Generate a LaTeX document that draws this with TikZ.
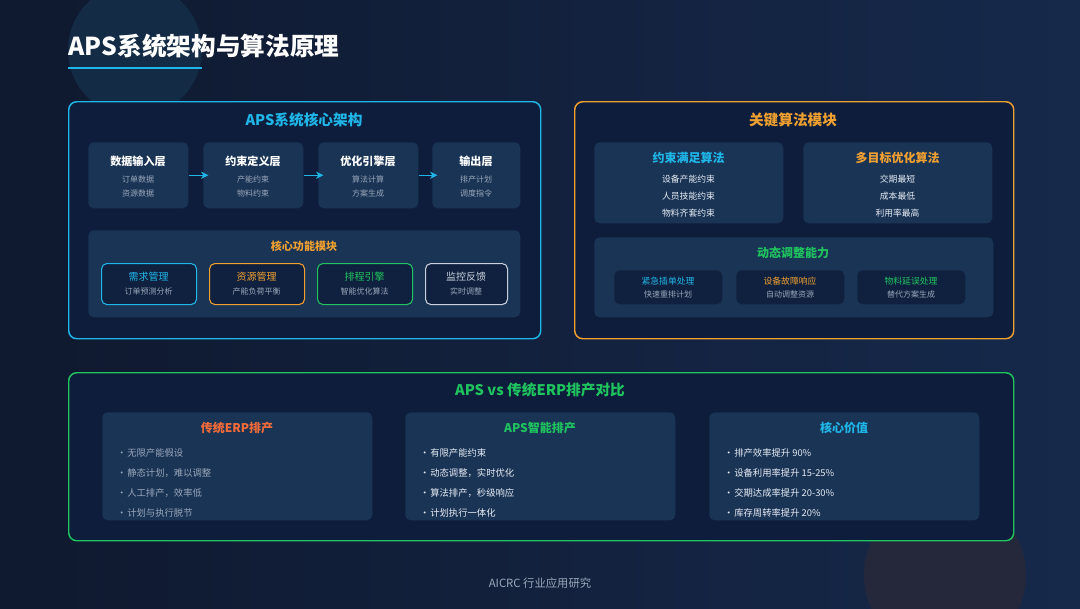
\documentclass[tikz,border=0pt]{standalone}
\usepackage{fontspec}
\setmainfont{Noto Sans CJK SC}
\usetikzlibrary{arrows.meta}
\definecolor{bgleft}{HTML}{0F192F}
\definecolor{bgright}{HTML}{16294B}
\definecolor{panelbg}{HTML}{0E1D3B}
\definecolor{cardbg}{HTML}{1A3456}
\definecolor{darkcard}{HTML}{10213F}
\definecolor{accentcyan}{HTML}{1FB6E8}
\definecolor{accentorange}{HTML}{F0A030}
\definecolor{accentgreen}{HTML}{1FC45F}
\definecolor{accentred}{HTML}{F26B38}
\definecolor{subgray}{HTML}{9AA8BA}
\definecolor{lightgray}{HTML}{C8D0DC}
\definecolor{textwhite}{HTML}{E8EDF4}
\definecolor{glowteal}{HTML}{132B45}
\definecolor{glowbrown}{HTML}{24283A}
\begin{document}
\begin{tikzpicture}[x=0.75pt,y=-0.75pt,
    box/.style 2 args={minimum width=#1*0.75pt,minimum height=#2*0.75pt},
    panel/.style={draw=#1,line width=1.1pt,rounded corners=6pt,fill=panelbg,anchor=north west,inner sep=0pt},
    card/.style={fill=cardbg,rounded corners=4pt,anchor=north west,inner sep=0pt},
    module/.style={draw=#1,line width=0.8pt,fill=darkcard,rounded corners=4pt,anchor=north west,inner sep=0pt},
    headtext/.style={font=\bfseries\fontsize{11}{13}\selectfont,text=#1},
    cardtext/.style={font=\bfseries\fontsize{9}{11}\selectfont,text=#1},
    layertext/.style={font=\bfseries\fontsize{8.3}{10}\selectfont,text=white},
    modtext/.style={font=\fontsize{7.5}{9}\selectfont,text=#1},
    subtext/.style={font=\fontsize{6}{7}\selectfont,text=subgray},
    itemtext/.style={font=\fontsize{6.6}{8}\selectfont,text=textwhite},
    bullettext/.style={font=\fontsize{7}{8.5}\selectfont,text=#1,anchor=west},
    flow/.style={draw=accentcyan,line width=0.9pt,shorten >=-4pt,-{Stealth[length=5.5pt,width=5.5pt]}}]
  \useasboundingbox (0,0) rectangle (1080,608);
  \shade[left color=bgleft,right color=bgright] (0,0) rectangle (1080,608);
  \fill[glowteal] (135,50) circle (67);
  \fill[glowbrown] (945,575) circle (81);

  \node[anchor=west,font=\bfseries\fontsize{18.5}{22}\selectfont,text=white] (title) at (64,46) {APS系统架构与算法原理};
  \draw[accentcyan,line width=2pt] (68,68) -- (202,68);

  \node[panel=accentcyan,box={472}{237}] (arch) at (68,101) {};
  \node[headtext=accentcyan] (archt) at (304,120) {APS系统核心架构};
  \foreach \i/\x/\w/\ttl/\sa/\sb in {1/88/100/数据输入层/订单数据/资源数据,2/203/100/约束定义层/产能约束/物料约束,
      3/318/100/优化引擎层/算法计算/方案生成,4/432/88/输出层/排产计划/调度指令} {
    \node[card,box={\w}{66}] (l\i) at (\x,142) {};
    \node[layertext] (l\i t) at (\x+\w/2,161) {\ttl};
    \node[subtext] (l\i a) at (\x+\w/2,179) {\sa};
    \node[subtext] (l\i b) at (\x+\w/2,193) {\sb};
  }
  \foreach \i/\j in {1/2,2/3,3/4}
    \draw[flow] (l\i) -- (l\j);
  \node[card,box={432}{87}] (core) at (88,230) {};
  \node[layertext,text=accentorange] (coret) at (304,246) {核心功能模块};
  \foreach \i/\x/\w/\c/\ttl/\sa in {1/101/95/accentcyan/需求管理/订单预测分析,2/209/95/accentorange/资源管理/产能负荷平衡,
      3/317/95/accentgreen/排程引擎/智能优化算法,4/425/82/lightgray/监控反馈/实时调整} {
    \node[module=\c,box={\w}{41}] (m\i) at (\x,263) {};
    \node[modtext=\c] (m\i t) at (\x+\w/2,277) {\ttl};
    \node[subtext] (m\i a) at (\x+\w/2,291) {\sa};
  }

  \node[panel=accentorange,box={439}{237}] (algo) at (574,101) {};
  \node[headtext=accentorange] (algot) at (793,120) {关键算法模块};
  \foreach \i/\x/\c/\ttl/\sa/\sb/\sc in {1/594/accentcyan/约束满足算法/设备产能约束/人员技能约束/物料齐套约束,
      2/803/accentorange/多目标优化算法/交期最短/成本最低/利用率最高} {
    \node[card,box={189}{81}] (a\i) at (\x,142) {};
    \node[cardtext=\c] (a\i t) at (\x+94.5,158) {\ttl};
    \node[itemtext] (a\i a) at (\x+94.5,179) {\sa};
    \node[itemtext] (a\i b) at (\x+94.5,196) {\sb};
    \node[itemtext] (a\i c) at (\x+94.5,213) {\sc};
  }
  \node[card,box={399}{80}] (dyn) at (594,237) {};
  \node[cardtext=accentgreen] (dynt) at (793,253) {动态调整能力};
  \foreach \i/\x/\c/\ttl/\sa in {1/614/accentcyan/紧急插单处理/快速重排计划,2/736/accentorange/设备故障响应/自动调整资源,
      3/857/accentgreen/物料延误处理/替代方案生成} {
    \node[card,fill=darkcard,box={108}{34}] (d\i) at (\x,270) {};
    \node[itemtext,text=\c] (d\i t) at (\x+54,281) {\ttl};
    \node[subtext] (d\i a) at (\x+54,294) {\sa};
  }

  \node[panel=accentgreen,box={945}{168}] (cmp) at (68,372) {};
  \node[headtext=accentgreen] (cmpt) at (540,390) {APS vs 传统ERP排产对比};
  \foreach \i/\x/\c/\ttl in {1/102/accentred/传统ERP排产,2/405/accentgreen/APS智能排产,3/709/accentcyan/核心价值} {
    \node[card,box={270}{108}] (c\i) at (\x,412) {};
    \node[cardtext=\c] (c\i t) at (\x+135,428) {\ttl};
  }
  \foreach \k/\y/\txt in {1/453/无限产能假设,2/473/静态计划，难以调整,3/493/人工排产，效率低,4/513/计划与执行脱节}
    \node[bullettext=subgray] (e\k) at (113,\y) {\makebox[6pt]{•}\,\txt};
  \foreach \k/\y/\txt in {1/453/有限产能约束,2/473/动态调整，实时优化,3/493/算法排产，秒级响应,4/513/计划执行一体化}
    \node[bullettext=textwhite] (s\k) at (416,\y) {\makebox[6pt]{•}\,\txt};
  \foreach \k/\y/\txt in {1/453/排产效率提升 90\%,2/473/设备利用率提升 15-25\%,3/493/交期达成率提升 20-30\%,4/513/库存周转率提升 20\%}
    \node[bullettext=textwhite] (v\k) at (720,\y) {\makebox[6pt]{•}\,\txt};

  \node[font=\fontsize{8.5}{10}\selectfont,text=subgray] (foot) at (540,583) {AICRC 行业应用研究};
\end{tikzpicture}
\end{document}
